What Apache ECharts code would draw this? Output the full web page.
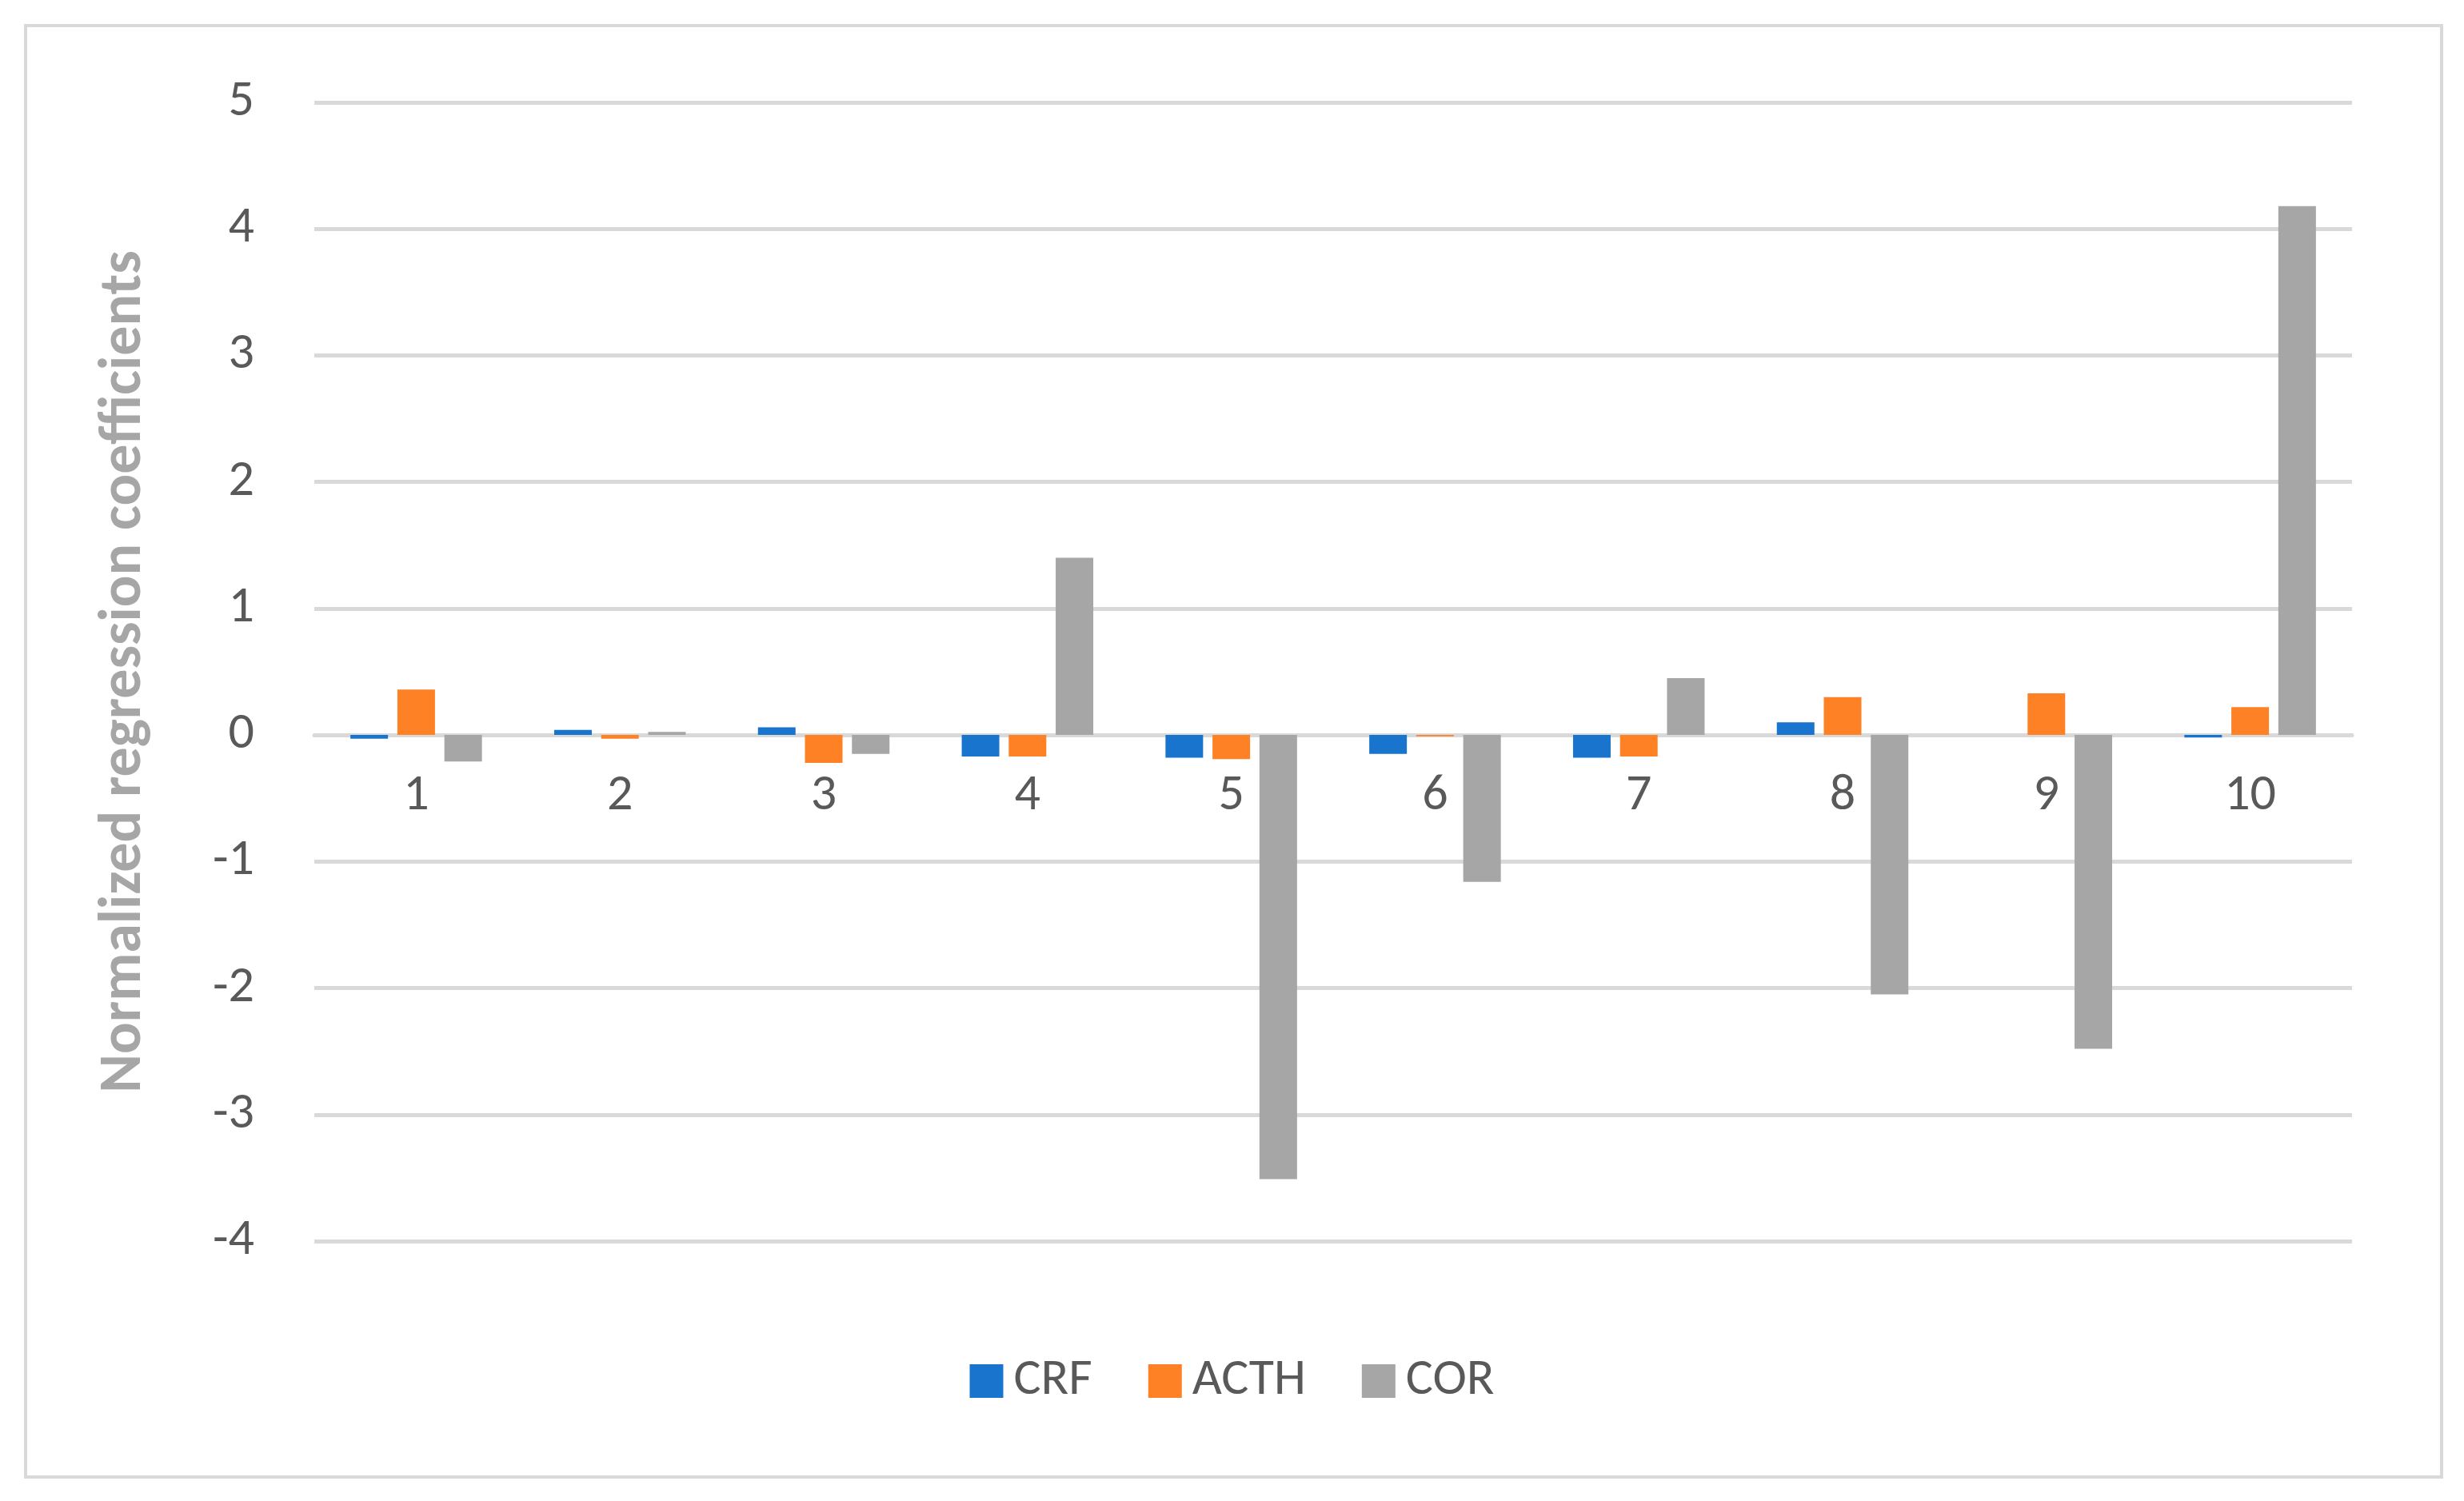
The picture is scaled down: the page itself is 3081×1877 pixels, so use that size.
<!DOCTYPE html>
<html>
<head>
<meta charset="utf-8">
<script src="https://cdn.jsdelivr.net/npm/echarts@6/dist/echarts.min.js"></script>
<style>
  html, body { margin: 0; padding: 0; background: #fff; }
  #frame { position: absolute; left: 30px; top: 30px; width: 3017px; height: 1811px; border: 4px solid #d9d9d9; }
  #chart { width: 3081px; height: 1877px; }
</style>
</head>
<body>
<div id="frame"></div>
<div id="chart"></div>
<script>
var categories = ['1', '2', '3', '4', '5', '6', '7', '8', '9', '10'];
var crf  = [-0.03, 0.04, 0.06, -0.17, -0.18, -0.15, -0.18, 0.10, 0.00, -0.02];
var acth = [0.36, -0.03, -0.22, -0.17, -0.19, -0.01, -0.17, 0.30, 0.33, 0.22];
var cor  = [-0.21, 0.025, -0.15, 1.40, -3.51, -1.16, 0.45, -2.05, -2.48, 4.18];

var chart = echarts.init(document.getElementById('chart'));
var font = 'Calibri, Carlito, "Open Sans", "Liberation Sans", sans-serif';

var gridTop = 128, gridBottom = 325, chartH = 1877;
// place the category axis on the zero line (5 units above, 4 below)
var zeroOffset = -(chartH - gridTop - gridBottom) * 4 / 9;

function bar(name, data, color) {
  return { name: name, type: 'bar', data: data, barWidth: 47, barGap: '25%',
           itemStyle: { color: color }, animation: false };
}

chart.setOption({
  animation: false,
  grid: { left: 393, right: 140, top: gridTop, bottom: gridBottom },
  legend: {
    top: 1690, left: 'center', itemWidth: 42, itemHeight: 42, itemGap: 70,
    icon: 'rect',
    textStyle: { fontSize: 64, color: '#595959', fontFamily: font, padding: [0, 0, 0, 8] }
  },
  xAxis: {
    type: 'category', data: categories,
    offset: zeroOffset,
    axisLine: { onZero: false, lineStyle: { color: '#d9d9d9', width: 5 } },
    axisTick: { show: false },
    axisLabel: { fontSize: 64, color: '#595959', fontFamily: font, margin: 45 }
  },
  yAxis: {
    type: 'value', min: -4, max: 5, interval: 1,
    name: 'Normalized regression coefficients', nameLocation: 'middle', nameGap: 200,
    nameTextStyle: { fontSize: 74, fontWeight: 'bold', color: '#a6a6a6', fontFamily: font },
    axisLine: { show: false }, axisTick: { show: false },
    axisLabel: { fontSize: 64, color: '#595959', fontFamily: font, margin: 75 },
    splitLine: { lineStyle: { color: '#d9d9d9', width: 5 } }
  },
  series: [
    bar('CRF', crf, '#1874cd'),
    bar('ACTH', acth, '#ff8126'),
    bar('COR', cor, '#a6a6a6')
  ]
});
</script>
</body>
</html>
